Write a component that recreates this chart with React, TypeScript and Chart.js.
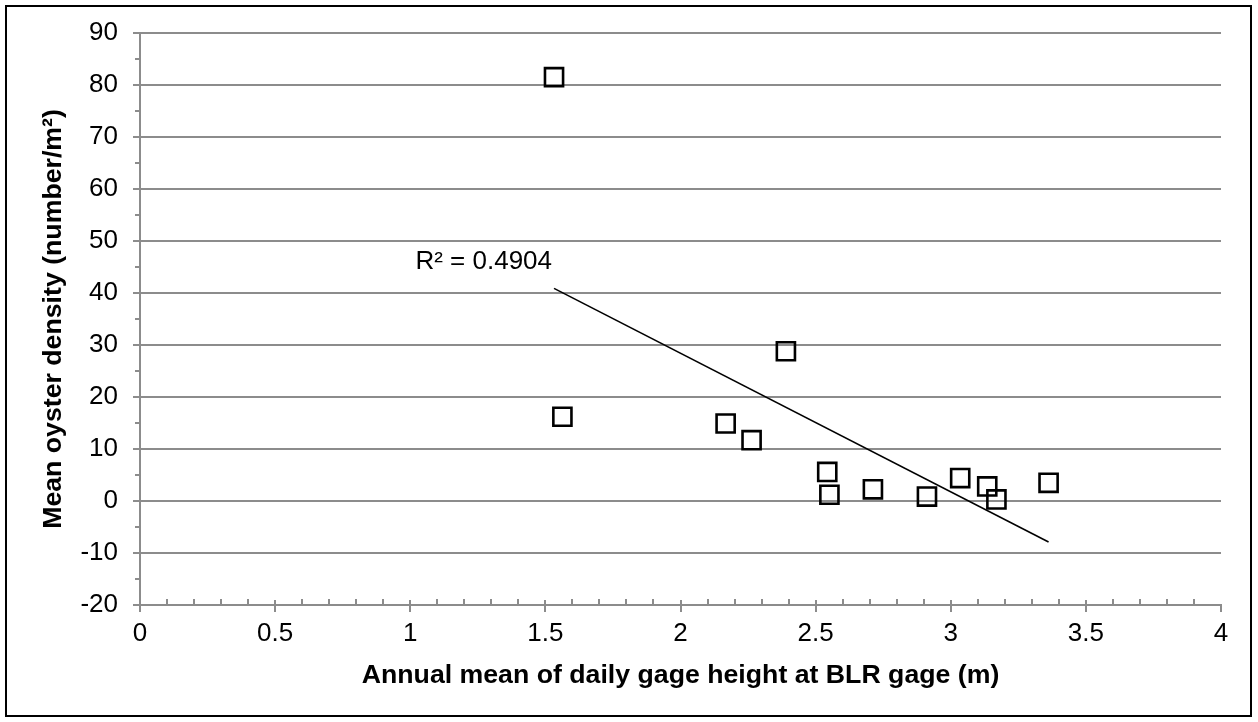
import React, { useEffect, useRef } from 'react';
import { Chart, registerables } from 'chart.js';

Chart.register(...registerables);

// ---- data ----
const gageHeight = [1.532, 1.563, 2.167, 2.263, 2.39, 2.543, 2.551, 2.712, 2.912, 3.035, 3.135, 3.169, 3.362];
const oysterDensity = [81.5, 16.2, 14.9, 11.7, 28.8, 5.6, 1.2, 2.25, 0.85, 4.4, 2.8, 0.3, 3.5];
const xTickValues = [0, 0.5, 1, 1.5, 2, 2.5, 3, 3.5, 4];
const yTickValues = [-20, -10, 0, 10, 20, 30, 40, 50, 60, 70, 80, 90];
const xAxisTitle = 'Annual mean of daily gage height at BLR gage (m)';
const yAxisTitle = 'Mean oyster density (number/m²)';
const r2Label = 'R² = 0.4904';

const FONT = '"Liberation Sans", Arial, Helvetica, sans-serif';
const GRID = '#8c8c8c';

function linearFit(xs: number[], ys: number[]) {
  const n = xs.length;
  const mx = xs.reduce((a, b) => a + b, 0) / n;
  const my = ys.reduce((a, b) => a + b, 0) / n;
  let sxy = 0;
  let sxx = 0;
  for (let i = 0; i < n; i++) {
    sxy += (xs[i] - mx) * (ys[i] - my);
    sxx += (xs[i] - mx) * (xs[i] - mx);
  }
  const slope = sxy / sxx;
  return { slope, intercept: my - slope * mx };
}

const framePlugin = {
  id: 'frame',
  beforeDraw(chart: any) {
    const { ctx, width, height } = chart;
    ctx.save();
    ctx.fillStyle = '#ffffff';
    ctx.fillRect(0, 0, width, height);
    ctx.strokeStyle = '#000000';
    ctx.lineWidth = 2;
    ctx.strokeRect(6, 6, 1245, 710);
    ctx.restore();
  },
};

const minorTicksPlugin = {
  id: 'minorTicks',
  afterDatasetsDraw(chart: any) {
    const { ctx, chartArea, scales } = chart;
    const xs = scales.x;
    const ys = scales.y;
    ctx.save();
    ctx.strokeStyle = GRID;
    ctx.lineWidth = 2;
    ctx.beginPath();
    // x axis: minor ticks every 0.1 (inward), inward part of major ticks
    for (let i = 1; i < 40; i++) {
      const v = i / 10;
      const px = Math.round(xs.getPixelForValue(v));
      const major = i % 5 === 0;
      ctx.moveTo(px, chartArea.bottom);
      ctx.lineTo(px, chartArea.bottom - (major ? 5 : 6));
    }
    // y axis: minor ticks every 5 (outward)
    for (let v = -15; v < 90; v += 10) {
      const py = Math.round(ys.getPixelForValue(v));
      ctx.moveTo(chartArea.left, py);
      ctx.lineTo(chartArea.left - 5, py);
    }
    ctx.stroke();
    ctx.restore();
  },
};

const r2Plugin = {
  id: 'r2Label',
  afterDatasetsDraw(chart: any) {
    const { ctx, scales } = chart;
    const trend = chart.data.datasets[1].data[0];
    const px = scales.x.getPixelForValue(trend.x);
    const py = scales.y.getPixelForValue(trend.y);
    ctx.save();
    ctx.font = `26px ${FONT}`;
    ctx.fillStyle = '#000000';
    ctx.textAlign = 'right';
    ctx.textBaseline = 'alphabetic';
    ctx.fillText(r2Label, px - 2, py - 19);
    ctx.restore();
  },
};

export default function App() {
  const canvasRef = useRef<HTMLCanvasElement | null>(null);

  useEffect(() => {
    document.body.style.margin = '0';
    const canvas = canvasRef.current;
    if (!canvas) return;

    const points = gageHeight.map((x, i) => ({ x, y: oysterDensity[i] }));
    const { slope, intercept } = linearFit(gageHeight, oysterDensity);
    const xMin = Math.min(...gageHeight);
    const xMax = Math.max(...gageHeight);
    const trendPoints = [
      { x: xMin, y: intercept + slope * xMin },
      { x: xMax, y: intercept + slope * xMax },
    ];

    Chart.defaults.font.family = FONT;
    Chart.defaults.font.size = 26;
    Chart.defaults.color = '#000000';

    const chart = new Chart(canvas, {
      type: 'scatter',
      data: {
        datasets: [
          {
            label: 'Oyster density',
            data: points,
            pointStyle: 'rect',
            pointRadius: 12.8,
            pointHoverRadius: 12.8,
            borderColor: '#000000',
            backgroundColor: 'rgba(255,255,255,0)',
            borderWidth: 2.6,
            order: 1,
          },
          {
            type: 'line',
            label: 'Linear trend',
            data: trendPoints,
            borderColor: '#000000',
            borderWidth: 1.6,
            pointRadius: 0,
            fill: false,
            showLine: true,
            order: 2,
          } as any,
        ],
      },
      options: {
        responsive: false,
        animation: false,
        devicePixelRatio: 1,
        layout: { padding: { left: 0, right: 37, top: 33, bottom: 0 } },
        plugins: {
          legend: { display: false },
          tooltip: { enabled: false },
          title: { display: false },
        },
        scales: {
          x: {
            type: 'linear',
            min: 0,
            max: 4,
            afterBuildTicks: (scale: any) => {
              scale.ticks = xTickValues.map((v) => ({ value: v }));
            },
            afterFit: (scale: any) => {
              scale.height = 117;
            },
            ticks: {
              padding: 6,
              color: '#000000',
              font: { size: 26 },
              maxRotation: 0,
              autoSkip: false,
              callback: (v: any) => String(v),
            },
            grid: {
              drawOnChartArea: false,
              drawTicks: true,
              tickLength: 7,
              tickColor: GRID,
              lineWidth: 2,
              color: GRID,
            },
            border: { display: true, color: GRID, width: 2 },
            title: {
              display: true,
              text: xAxisTitle,
              color: '#000000',
              font: { size: 26.7, weight: 'bold' },
              padding: { top: 0, bottom: 30 },
            },
          },
          y: {
            type: 'linear',
            min: -20,
            max: 90,
            afterBuildTicks: (scale: any) => {
              scale.ticks = yTickValues.map((v) => ({ value: v }));
            },
            afterFit: (scale: any) => {
              scale.width = 140;
            },
            ticks: {
              padding: 15,
              color: '#000000',
              font: { size: 26 },
              autoSkip: false,
              callback: (v: any) => String(v),
            },
            grid: {
              drawOnChartArea: true,
              drawTicks: true,
              tickLength: 7,
              tickColor: GRID,
              color: GRID,
              lineWidth: 2,
            },
            border: { display: true, color: GRID, width: 2 },
            title: {
              display: true,
              text: yAxisTitle,
              color: '#000000',
              font: { size: 26.7, weight: 'bold' },
              padding: { top: 38, bottom: 0 },
            },
          },
        },
      },
      plugins: [framePlugin, minorTicksPlugin, r2Plugin],
    });

    return () => {
      chart.destroy();
    };
  }, []);

  return (
    <div style={{ width: 1258, height: 722, position: 'relative' }}>
      <canvas ref={canvasRef} width={1258} height={722} style={{ display: 'block' }} />
    </div>
  );
}
